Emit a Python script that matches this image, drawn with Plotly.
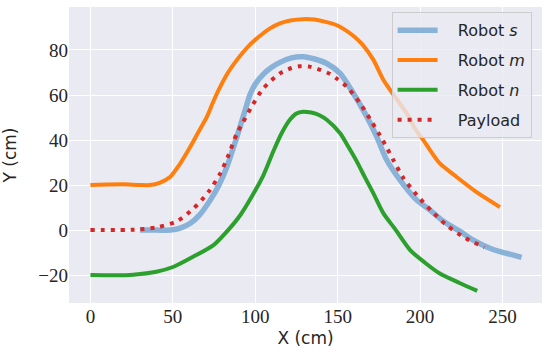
import plotly.graph_objects as go

# Robot s
s_x = [30, 40, 48.5, 55, 60.6, 66, 72.7, 78, 82.8, 88.9, 93.9, 97, 100, 105, 110, 115, 122, 129, 136, 143.4, 151.5, 159.6, 167.7, 173.7, 179.8, 187.9, 198, 205, 214, 224, 232, 242, 248.5, 255, 261.6]
s_y = [0, 0, 0, 1, 3, 6.5, 13.3, 20, 28.1, 41.5, 53.3, 60.5, 64.8, 69.3, 72.3, 74.5, 76.5, 77, 76, 74, 69.6, 60.7, 50.4, 41.5, 31.1, 22.2, 13.3, 9.5, 4, -0.5, -4.4, -8, -9.6, -10.8, -12.1]

# Robot m
m_x = [0, 10, 20, 30, 36, 42, 48.5, 54, 60.6, 65.5, 70.7, 74.5, 78.8, 83.5, 88.9, 95, 100, 109, 115, 122, 129, 136, 142, 149.5, 155, 160, 165, 171.7, 177.8, 185, 191.9, 197, 202, 207, 212, 222, 235, 248.5]
m_y = [20, 20.2, 20.3, 20, 20, 21, 23.7, 29, 37, 43.5, 50.4, 57, 63.7, 70, 75.6, 81, 84.5, 89.6, 91.8, 93.2, 93.7, 93.5, 92.6, 91, 88.7, 86, 82.5, 75.6, 66.7, 59, 51.9, 45, 40, 34.5, 29.6, 23.7, 16.5, 10.2]

# Robot n
n_x = [0, 15, 26, 40, 50.5, 62, 74.7, 83, 91, 98, 105, 111, 116, 121, 125, 129, 134, 139, 143.4, 151.5, 156.5, 161.6, 166.5, 171.7, 177.8, 184.8, 194, 203, 212, 224, 234.7]
n_y = [-20, -20.1, -19.8, -18.5, -16.3, -12, -6.7, -0.5, 6.7, 15, 24.4, 35, 43, 49, 51.8, 52.6, 52.2, 51, 49, 43, 37, 30.5, 23.5, 16.3, 7.4, 0.5, -8.9, -14.5, -19.3, -23.5, -27]

# Payload
p_x = [0, 27, 40.4, 52.5, 62.6, 71.7, 78.8, 83.8, 88.9, 92.3, 98, 105, 115, 122, 127, 133, 140, 145.5, 150, 155.6, 163.6, 170.7, 177.3, 183.8, 190, 198, 207, 216, 227, 239]
p_y = [0, 0.2, 1.2, 3.9, 9.6, 17, 25.2, 33.3, 43, 47.5, 55.1, 63, 69.6, 72, 72.8, 72.6, 71, 69.3, 67, 63.7, 56.3, 48.1, 40, 31.1, 23, 15.6, 8.5, 2.2, -3.3, -7.7]

x_ticks = [0, 50, 100, 150, 200, 250]
y_ticks = [-20, 0, 20, 40, 60, 80]

pad = "\u00a0\u00a0\u00a0"
fig = go.Figure()
sm = 0.7
fig.add_trace(go.Scatter(x=s_x, y=s_y, mode="lines", name=pad + "Robot <i>s</i>", legendgroup="a",
                         line=dict(color="#89b2d8", width=5.5, shape="spline", smoothing=sm)))
fig.add_trace(go.Scatter(x=m_x, y=m_y, mode="lines", name=pad + "Robot <i>m</i>", legendgroup="b",
                         line=dict(color="#ff7f0e", width=4, shape="spline", smoothing=sm)))
fig.add_trace(go.Scatter(x=n_x, y=n_y, mode="lines", name=pad + "Robot <i>n</i>", legendgroup="c",
                         line=dict(color="#2ca02c", width=4, shape="spline", smoothing=sm)))
fig.add_trace(go.Scatter(x=p_x, y=p_y, mode="lines", name=pad + "Payload", legendgroup="d",
                         line=dict(color="#d62728", width=4, dash="4px,6px", shape="spline", smoothing=sm)))

tickfont = dict(family="Times New Roman, Liberation Serif, serif", size=19, color="#262626")
fig.update_layout(
    width=550, height=355,
    margin=dict(l=69, r=8, t=7, b=52),
    paper_bgcolor="white",
    plot_bgcolor="#EAEAF2",
    font=dict(family="DejaVu Sans", color="#262626"),
    legend=dict(x=0.978, y=0.982, xanchor="right", yanchor="top",
                bgcolor="rgba(234,234,242,0.8)", bordercolor="#cccccc", borderwidth=1,
                font=dict(family="DejaVu Sans", size=16, color="#262626"),
                traceorder="grouped", tracegroupgap=6, itemwidth=40),
    xaxis=dict(range=[-13, 274], tickvals=x_ticks, showgrid=True, gridcolor="white", gridwidth=1.3,
               zeroline=False, showline=False, ticks="", tickfont=tickfont, automargin=False,
               title=dict(text="X (cm)", font=dict(family="DejaVu Sans", size=17), standoff=6)),
    yaxis=dict(range=[-32.4, 99.1], tickvals=y_ticks, showgrid=True, gridcolor="white", gridwidth=1.3,
               zeroline=False, showline=False, ticks="", tickfont=tickfont, automargin=False,
               title=dict(text="Y (cm)", font=dict(family="DejaVu Sans", size=17), standoff=17)),
)
fig.write_html("out.html", config={"displayModeBar": False},
               post_script="document.body.style.margin='0';")
